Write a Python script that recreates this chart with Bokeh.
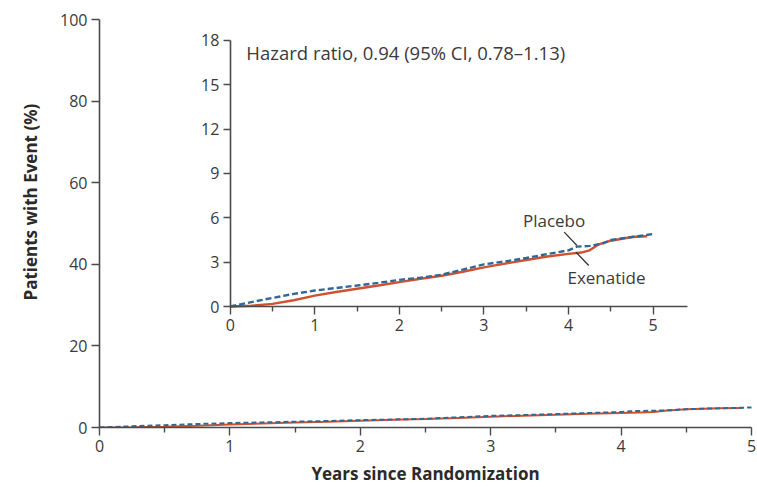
from bokeh.plotting import figure
from bokeh.models import Range1d, LinearAxis, FixedTicker, Label, Title
from bokeh.embed import file_html
from bokeh.resources import INLINE

# ---------------- data ----------------
placebo_years = [0, 0.25, 0.5, 0.75, 1.0, 1.25, 1.5, 1.75, 2.0, 2.25, 2.5, 2.75,
                 3.0, 3.25, 3.5, 3.75, 4.0, 4.1, 4.25, 4.4, 4.5, 4.75, 5.02]
placebo_pct = [0, 0.3, 0.58, 0.85, 1.08, 1.25, 1.42, 1.6, 1.8, 1.95, 2.15, 2.5,
               2.85, 3.05, 3.28, 3.55, 3.8, 4.05, 4.1, 4.25, 4.5, 4.7, 4.92]
exenatide_years = [0, 0.25, 0.5, 0.75, 1.0, 1.25, 1.5, 1.75, 2.0, 2.25, 2.5, 2.75,
                   3.0, 3.25, 3.5, 3.75, 4.0, 4.15, 4.25, 4.35, 4.5, 4.75, 4.93]
exenatide_pct = [0, 0.05, 0.18, 0.42, 0.74, 0.98, 1.2, 1.42, 1.65, 1.88, 2.08, 2.35,
                 2.65, 2.9, 3.15, 3.38, 3.56, 3.65, 3.8, 4.18, 4.45, 4.7, 4.75]

x_major_ticks = [0, 1, 2, 3, 4, 5]
x_minor_ticks = [0.5, 1.5, 2.5, 3.5, 4.5]
main_y_ticks = [0, 20, 40, 60, 80, 100]
inset_y_ticks = [0, 3, 6, 9, 12, 15, 18]
hazard_text = "Hazard ratio, 0.94 (95% CI, 0.78\u20131.13)"
x_title = "Years since Randomization"
y_title = "Patients with Event (%)"

# ---------------- style / layout ----------------
FONT = "Open Sans"
TXT = "#3a3a3a"
AX = "#4a4a4a"
RED = "#d0502f"
BLUE = "#2f6898"

W, H = 756, 487
# frame pixel edges in the page
FL, FR, FT, FB = 98, 751, 19, 427
BL, BR, BT, BB = FL, W - FR, FT, H - FB
# inset placement in page pixels
IX0, IXPU = 229.0, 84.67   # px of inset x=0, px per year
IY0, IYPU = 306.0, 14.78   # px of inset y=0, px per percent

p = figure(width=W, height=H, output_backend="svg", toolbar_location=None,
           x_range=Range1d(0, 5), y_range=Range1d(0, 100),
           min_border_left=BL, min_border_right=BR, min_border_top=BT,
           min_border_bottom=BB)
p.outline_line_color = None
p.xgrid.visible = False
p.ygrid.visible = False
p.background_fill_color = "white"
p.border_fill_color = "white"

p.extra_x_ranges = {"ix": Range1d((FL - IX0) / IXPU, (FR - IX0) / IXPU)}
p.extra_y_ranges = {"iy": Range1d((IY0 - FB) / IYPU, (IY0 - FT) / IYPU)}


def style_axis(ax, tick_out, minor_out=0, size="16px"):
    ax.axis_line_color = AX
    ax.axis_line_width = 1.6
    ax.major_tick_line_color = AX
    ax.major_tick_line_width = 1.4
    ax.minor_tick_line_color = AX
    ax.minor_tick_line_width = 1.4
    ax.major_tick_in = 0
    ax.major_tick_out = tick_out
    ax.minor_tick_in = 0
    ax.minor_tick_out = minor_out
    ax.major_label_text_font = FONT
    ax.major_label_text_font_size = size
    ax.major_label_text_color = TXT
    ax.major_label_standoff = 4


# main axes
xa = p.xaxis[0]
xa.ticker = FixedTicker(ticks=x_major_ticks, minor_ticks=x_minor_ticks)
xa.bounds = (0, 5)
style_axis(xa, 8, 5)
xa.axis_label = x_title
xa.axis_label_text_font = FONT
xa.axis_label_text_font_size = "17px"
xa.axis_label_text_font_style = "bold"
xa.axis_label_text_color = "#2a2a2a"
xa.axis_label_standoff = 7

ya = p.yaxis[0]
ya.ticker = FixedTicker(ticks=main_y_ticks)
ya.bounds = (0, 100)
style_axis(ya, 8)

# inset axes
ixa = LinearAxis(x_range_name="ix", y_range_name="iy", fixed_location=0,
                 ticker=FixedTicker(ticks=x_major_ticks, minor_ticks=x_minor_ticks),
                 bounds=(0, 5.41))
style_axis(ixa, 8, 5)
p.add_layout(ixa, "below")
iya = LinearAxis(x_range_name="ix", y_range_name="iy", fixed_location=0,
                 ticker=FixedTicker(ticks=inset_y_ticks), bounds=(0, 18))
style_axis(iya, 7)
p.add_layout(iya, "left")

# y title as a left-side title, shifted up like the reference
p.add_layout(Title(text=y_title, align="left", offset=127, standoff=32,
                   text_font=FONT, text_font_size="17px", text_font_style="bold",
                   text_color="#2a2a2a"), "left")

# main curves
p.line(exenatide_years, exenatide_pct, line_color=RED, line_width=2)
p.line(placebo_years, placebo_pct, line_color=BLUE, line_width=2, line_dash="5 3")

# inset curves
p.line(exenatide_years, exenatide_pct, line_color=RED, line_width=2.4,
       x_range_name="ix", y_range_name="iy")
p.line(placebo_years, placebo_pct, line_color=BLUE, line_width=2.4, line_dash="6 3",
       x_range_name="ix", y_range_name="iy")

# inset annotations
p.add_layout(Label(x=0.19, y=17.2, text=hazard_text, x_range_name="ix", y_range_name="iy",
                   text_font=FONT, text_font_size="18.5px", text_color=TXT,
                   text_align="left", text_baseline="middle"))
p.add_layout(Label(x=3.83, y=5.82, text="Placebo", x_range_name="ix", y_range_name="iy",
                   text_font=FONT, text_font_size="17px", text_color=TXT,
                   text_align="center", text_baseline="middle"))
p.add_layout(Label(x=4.45, y=1.96, text="Exenatide", x_range_name="ix", y_range_name="iy",
                   text_font=FONT, text_font_size="17px", text_color=TXT,
                   text_align="center", text_baseline="middle"))
p.segment(x0=[3.95, 4.09], y0=[5.03, 3.67], x1=[4.10, 4.24], y1=[4.13, 2.77],
          line_color="#333333", line_width=1.3, x_range_name="ix", y_range_name="iy")

open("out.html", "w").write(file_html(p, INLINE))
